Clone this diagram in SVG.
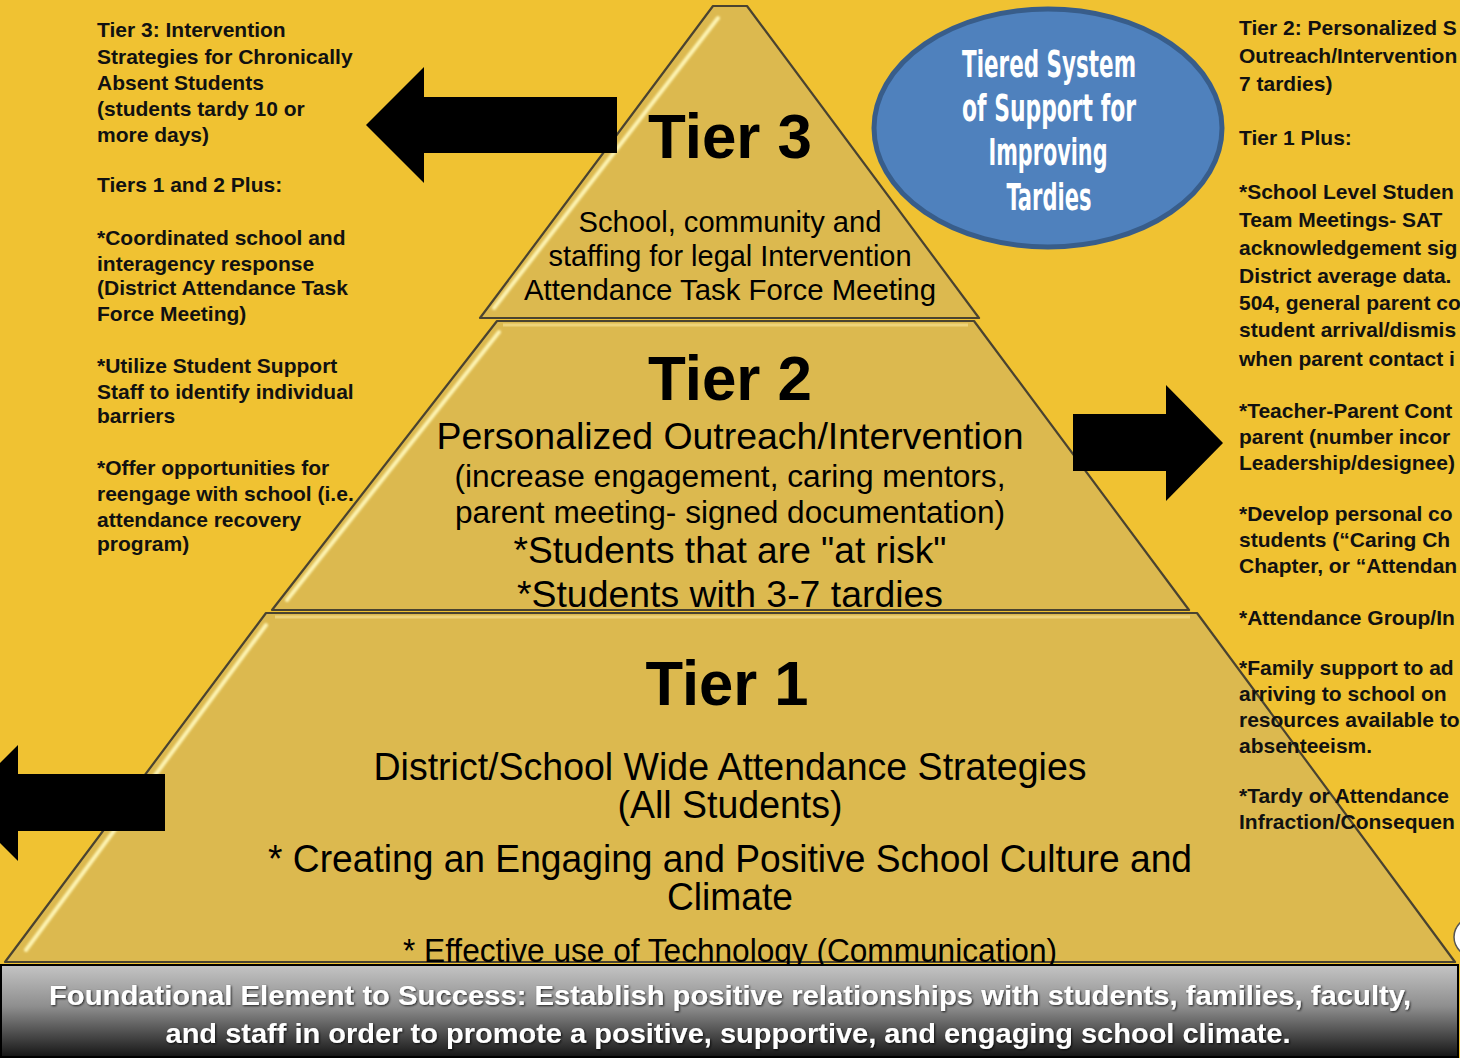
<svg xmlns="http://www.w3.org/2000/svg" width="1460" height="1058" viewBox="0 0 1460 1058">
  <defs>
    <style>
      .tier { fill: #DCB94F; stroke: #4A4330; stroke-width: 2.2; stroke-linejoin: round; }
      .hl { stroke: #FFF7B8; stroke-width: 4; stroke-linecap: round; fill: none; opacity: 0.95; }
      .hlTop { stroke: #F2DA84; stroke-width: 3; fill: none; opacity: 0.8; }
      .side { font-family: "Liberation Sans", Arial, sans-serif; font-weight: bold; font-size: 21px; fill: #111; }
      .tierTitle { font-family: "Liberation Sans", Arial, sans-serif; font-weight: bold; font-size: 63px; fill: #000; text-anchor: middle; }
      .body { font-family: "Liberation Sans", Arial, sans-serif; fill: #000; text-anchor: middle; }
      .oval { font-family: "DejaVu Sans Condensed", "DejaVu Sans", sans-serif; font-weight: bold; font-size: 38px; fill: #fff; text-anchor: middle; }
      .band { font-family: "Liberation Sans", Arial, sans-serif; font-weight: bold; font-size: 28px; fill: #fff; text-anchor: middle; }
      .arrow { fill: #000; }
    </style>
    <linearGradient id="bandGrad" x1="0" y1="0" x2="0" y2="1">
      <stop offset="0" stop-color="#C4C4C4"/>
      <stop offset="0.45" stop-color="#8E8E8E"/>
      <stop offset="1" stop-color="#151515"/>
    </linearGradient>
    <filter id="soft" x="-5%" y="-5%" width="110%" height="110%">
      <feGaussianBlur stdDeviation="1"/>
    </filter>
    <filter id="tshadow" x="-5%" y="-20%" width="110%" height="140%">
      <feDropShadow dx="1" dy="1" stdDeviation="0.8" flood-color="#000" flood-opacity="0.8"/>
    </filter>
  </defs>

  <rect x="0" y="0" width="1460" height="1058" fill="#F0C232"/>

  <!-- Pyramid tiers -->
  <g id="tier1">
    <polygon class="tier" points="266,613 1197,613 1455,962 5,962"/>
    <line class="hl" x1="266" y1="625" x2="26" y2="950" filter="url(#soft)"/>
    <line class="hlTop" x1="275" y1="617" x2="1190" y2="617"/>
  </g>
  <g id="tier2">
    <polygon class="tier" points="497,321 974,321 1189,610 272,610"/>
    <line class="hl" x1="499" y1="332" x2="287" y2="600" filter="url(#soft)"/>
    <line class="hlTop" x1="503" y1="325" x2="968" y2="325"/>
  </g>
  <g id="tier3">
    <polygon class="tier" points="713,6 747,6 979,318 480,318"/>
    <line class="hl" x1="718" y1="18" x2="494" y2="308" filter="url(#soft)"/>
  </g>

  <!-- Pyramid text -->
  <g id="tier3-text">
    <text class="tierTitle" x="730" y="158" textLength="164" lengthAdjust="spacingAndGlyphs">Tier 3</text>
    <text class="body" x="730" y="232" font-size="29" textLength="303" lengthAdjust="spacingAndGlyphs">School, community and</text>
    <text class="body" x="730" y="266" font-size="29" textLength="363" lengthAdjust="spacingAndGlyphs">staffing for legal Intervention</text>
    <text class="body" x="730" y="300" font-size="29" textLength="412" lengthAdjust="spacingAndGlyphs">Attendance Task Force Meeting</text>
  </g>
  <g id="tier2-text">
    <text class="tierTitle" x="730" y="400" textLength="164" lengthAdjust="spacingAndGlyphs">Tier 2</text>
    <text class="body" x="730" y="449" font-size="37" textLength="587" lengthAdjust="spacingAndGlyphs">Personalized Outreach/Intervention</text>
    <text class="body" x="730" y="487" font-size="31" textLength="551" lengthAdjust="spacingAndGlyphs">(increase engagement, caring mentors,</text>
    <text class="body" x="730" y="523" font-size="31" textLength="550" lengthAdjust="spacingAndGlyphs">parent meeting- signed documentation)</text>
    <text class="body" x="730" y="563" font-size="36" textLength="433" lengthAdjust="spacingAndGlyphs">*Students that are "at risk"</text>
    <text class="body" x="730" y="607" font-size="36" textLength="426" lengthAdjust="spacingAndGlyphs">*Students with 3-7 tardies</text>
  </g>
  <g id="tier1-text">
    <text class="tierTitle" x="727" y="705" textLength="163" lengthAdjust="spacingAndGlyphs">Tier 1</text>
    <text class="body" x="730" y="780" font-size="38" textLength="713" lengthAdjust="spacingAndGlyphs">District/School Wide Attendance Strategies</text>
    <text class="body" x="730" y="818" font-size="38" textLength="225" lengthAdjust="spacingAndGlyphs">(All Students)</text>
    <text class="body" x="730" y="872" font-size="38" textLength="924" lengthAdjust="spacingAndGlyphs">* Creating an Engaging and Positive School Culture and</text>
    <text class="body" x="730" y="910" font-size="38" textLength="126" lengthAdjust="spacingAndGlyphs">Climate</text>
    <text class="body" x="730" y="962" font-size="33" textLength="654" lengthAdjust="spacingAndGlyphs">* Effective use of Technology  (Communication)</text>
  </g>

  <!-- Oval title -->
  <g id="title-oval">
    <ellipse cx="1048" cy="128" rx="174" ry="119" fill="#4F81BD" stroke="#385D8A" stroke-width="5"/>
    <text class="oval" x="1049" y="77" textLength="174" lengthAdjust="spacingAndGlyphs">Tiered System</text>
    <text class="oval" x="1049" y="121" textLength="174" lengthAdjust="spacingAndGlyphs">of Support for</text>
    <text class="oval" x="1048" y="165" textLength="119" lengthAdjust="spacingAndGlyphs">Improving</text>
    <text class="oval" x="1049" y="210" textLength="85" lengthAdjust="spacingAndGlyphs">Tardies</text>
  </g>

  <!-- Partial shape at right edge -->
  <g id="edge-shape">
    <ellipse cx="1492" cy="937" rx="38" ry="26" fill="#FFFFFF" stroke="#555" stroke-width="1.5"/>
  </g>

  <!-- Arrows -->
  <g id="connectors">
    <polygon class="arrow" points="617,97 424,97 424,67 366,125 424,183 424,153 617,153"/>
    <polygon class="arrow" points="1073,414 1166,414 1166,385 1223,443 1166,501 1166,471 1073,471"/>
    <polygon class="arrow" points="165,774 18,774 18,745 -40,803 18,861 18,831 165,831"/>
  </g>

  <!-- Left text: Tier 3 -->
  <g id="left-text">
    <text class="side" x="97" y="37">Tier 3: Intervention</text>
    <text class="side" x="97" y="64">Strategies for Chronically</text>
    <text class="side" x="97" y="90">Absent Students</text>
    <text class="side" x="97" y="116">(students tardy 10 or</text>
    <text class="side" x="97" y="142">more days)</text>
    <text class="side" x="97" y="192">Tiers 1 and 2 Plus:</text>
    <text class="side" x="97" y="245">*Coordinated school and</text>
    <text class="side" x="97" y="271">interagency response</text>
    <text class="side" x="97" y="295">(District Attendance Task</text>
    <text class="side" x="97" y="321">Force Meeting)</text>
    <text class="side" x="97" y="373">*Utilize Student Support</text>
    <text class="side" x="97" y="399">Staff to identify individual</text>
    <text class="side" x="97" y="423">barriers</text>
    <text class="side" x="97" y="475">*Offer opportunities for</text>
    <text class="side" x="97" y="501">reengage with school (i.e.</text>
    <text class="side" x="97" y="527">attendance recovery</text>
    <text class="side" x="97" y="551">program)</text>
  </g>

  <!-- Right text: Tier 2 -->
  <g id="right-text">
    <text class="side" x="1239" y="35">Tier 2: Personalized S</text>
    <text class="side" x="1239" y="63">Outreach/Intervention</text>
    <text class="side" x="1239" y="91">7 tardies)</text>
    <text class="side" x="1239" y="145">Tier 1 Plus:</text>
    <text class="side" x="1239" y="199">*School Level Studen</text>
    <text class="side" x="1239" y="227">Team Meetings- SAT</text>
    <text class="side" x="1239" y="255">acknowledgement sig</text>
    <text class="side" x="1239" y="283">District average data.</text>
    <text class="side" x="1239" y="310">504, general parent co</text>
    <text class="side" x="1239" y="337">student arrival/dismis</text>
    <text class="side" x="1239" y="366">when parent contact i</text>
    <text class="side" x="1239" y="418">*Teacher-Parent Cont</text>
    <text class="side" x="1239" y="444">parent (number incor</text>
    <text class="side" x="1239" y="470">Leadership/designee)</text>
    <text class="side" x="1239" y="521">*Develop personal co</text>
    <text class="side" x="1239" y="547">students (“Caring Ch</text>
    <text class="side" x="1239" y="573">Chapter, or “Attendan</text>
    <text class="side" x="1239" y="625">*Attendance Group/In</text>
    <text class="side" x="1239" y="675">*Family support to ad</text>
    <text class="side" x="1239" y="701">arriving to school on</text>
    <text class="side" x="1239" y="727">resources available to</text>
    <text class="side" x="1239" y="753">absenteeism.</text>
    <text class="side" x="1239" y="803">*Tardy or Attendance</text>
    <text class="side" x="1239" y="829">Infraction/Consequen</text>
  </g>

  <!-- Foundation band -->
  <g id="foundation">
    <rect x="1" y="965" width="1457" height="92" fill="url(#bandGrad)" stroke="#000" stroke-width="2"/>
    <text class="band" x="730" y="1005" textLength="1362" lengthAdjust="spacingAndGlyphs" filter="url(#tshadow)">Foundational Element to Success: Establish positive relationships with students, families, faculty,</text>
    <text class="band" x="728" y="1043" textLength="1125" lengthAdjust="spacingAndGlyphs" filter="url(#tshadow)">and staff in order to promote a positive, supportive, and engaging school climate.</text>
  </g>
</svg>
